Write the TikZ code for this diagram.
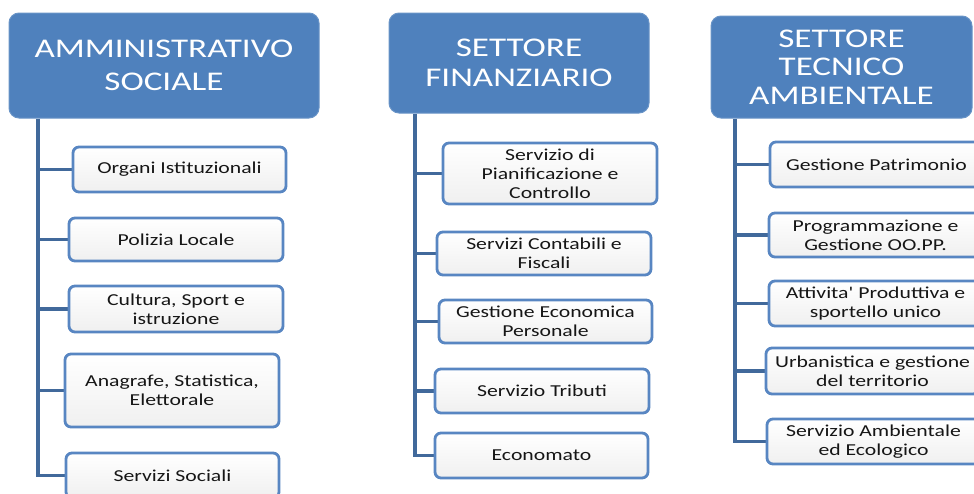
\documentclass[tikz,border=0pt]{standalone}
\usepackage{fontspec}
\setmainfont[FakeStretch=1.3]{Carlito}
\newfontfamily\straightq[FakeStretch=1.3,Ligatures=TeXOff]{Carlito}
\usetikzlibrary{backgrounds}
\definecolor{hdrblue}{HTML}{4F81BD}
\definecolor{boxblue}{HTML}{5886C2}
\definecolor{lineblue}{HTML}{41699B}
\definecolor{txtdark}{HTML}{161616}
\begin{document}
\begin{tikzpicture}[x=1pt,y=-1pt,
  hdr/.style={fill=hdrblue, draw=hdrblue!85!white, line width=1pt, rounded corners=10pt,
    text=white, align=center, inner sep=0pt},
  cbox/.style={draw=boxblue, line width=2.8pt, rounded corners=6pt, top color=white,
    bottom color=black!6, text=txtdark, align=center, inner sep=0pt,
    font=\fontsize{16.7}{19}\selectfont, minimum width=213pt},
  trunk/.style={draw=lineblue, line width=3.6pt}]
\useasboundingbox (0,0) rectangle (974,493);
\clip (0,0) rectangle (974,493);
% headers
\node[hdr, minimum width=310pt, minimum height=105pt, font=\fontsize{27}{33}\selectfont] (hL) at (164,65.5) {AMMINISTRATIVO\\SOCIALE};
\node[hdr, minimum width=260pt, minimum height=100pt, font=\fontsize{27}{30}\selectfont] (hM) at (519,63) {SETTORE\\FINANZIARIO};
\node[hdr, minimum width=261pt, minimum height=102pt, font=\fontsize{27}{28.5}\selectfont] (hR) at (841.5,67) {SETTORE\\TECNICO\\AMBIENTALE};
% trunk coordinates
\coordinate (tL) at (38,0);
\coordinate (tM) at (415,0);
\coordinate (tR) at (735,0);
% left column
\node[cbox, minimum height=45pt] (L1) at (179.5,169.5) {Organi Istituzionali};
\node[cbox, minimum height=43pt, minimum width=214pt] (L2) at (176,239.5) {Polizia Locale};
\node[cbox, minimum height=46pt, minimum width=214pt] (L3) at (176,309) {Cultura, Sport e\\istruzione};
\node[cbox, minimum height=73pt, minimum width=214pt] (L4) at (172,390.5) {Anagrafe, Statistica,\\Elettorale};
\node[cbox, minimum height=45pt] (L5) at (172.5,475.5) {Servizi Sociali};
% middle column
\node[cbox, minimum height=61pt, minimum width=214pt] (M1) at (550,173.5) {Servizio di\\Pianificazione e\\Controllo};
\node[cbox, minimum height=43pt, minimum width=214pt] (M2) at (544,253.5) {Servizi Contabili e\\Fiscali};
\node[cbox, minimum height=43pt] (M3) at (545.5,321.5) {Gestione Economica\\Personale};
\node[cbox, minimum height=44pt, minimum width=214pt] (M4) at (542,391) {Servizio Tributi};
\node[cbox, minimum height=45pt] (M5) at (541.5,455.5) {Economato};
% right column
\node[cbox, minimum height=45pt] (R1) at (876.5,164.5) {Gestione Patrimonio};
\node[cbox, minimum height=44pt] (R2) at (875.5,235) {Programmazione e\\Gestione OO.PP.};
\node[cbox, minimum height=45pt] (R3) at (875.5,303.5) {Attivita{\straightq '} Produttiva e\\sportello unico};
\node[cbox, minimum height=46pt] (R4) at (872.5,371) {Urbanistica e gestione\\del territorio};
\node[cbox, minimum height=45pt] (R5) at (873.5,441.5) {Servizio Ambientale\\ed Ecologico};
% connectors
\begin{scope}[on background layer]
\draw[trunk] (hL.south -| tL) -- (tL |- L5.west) -- (L5.west);
\foreach \n in {L1,L2,L3,L4} \draw[trunk] (tL |- \n.west) -- (\n.west);
\draw[trunk] (hM.south -| tM) -- (tM |- M5.west) -- (M5.west);
\foreach \n in {M1,M2,M3,M4} \draw[trunk] (tM |- \n.west) -- (\n.west);
\draw[trunk] (hR.south -| tR) -- (tR |- R5.west) -- (R5.west);
\foreach \n in {R1,R2,R3,R4} \draw[trunk] (tR |- \n.west) -- (\n.west);
\end{scope}
\end{tikzpicture}
\end{document}
